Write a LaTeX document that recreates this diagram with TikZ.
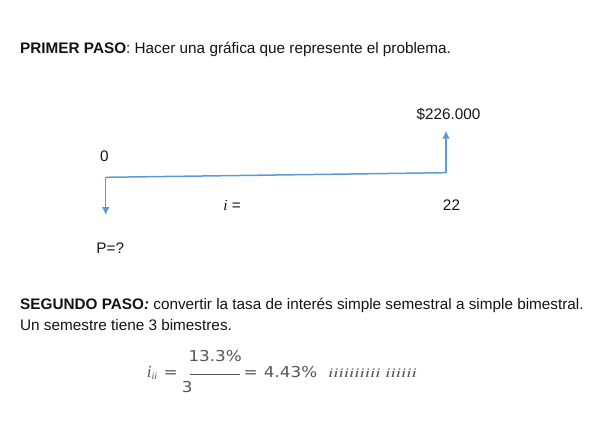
\documentclass[tikz,border=0pt]{standalone}
\usepackage{fontspec}
\setmainfont{Liberation Sans}
\newfontfamily\formulafont[FakeStretch=1.12]{DejaVu Sans}
\newfontfamily\serifit{Liberation Serif}
\usetikzlibrary{shapes,arrows.meta}
\definecolor{flowblue}{RGB}{91,155,213}
\definecolor{inkgray}{RGB}{20,20,20}
\definecolor{formgray}{RGB}{85,85,85}

\begin{document}
\begin{tikzpicture}[x=1pt,y=-1pt]
    % Define styles
    \tikzstyle{txt} = [inner sep=0pt, anchor=base west, text=inkgray, font=\fontsize{15.3}{18}\selectfont]
    \tikzstyle{lbl} = [txt, anchor=base]
    \tikzstyle{form} = [inner sep=0pt, anchor=base west, text=formgray, font=\formulafont\fontsize{15}{18}\selectfont]
    \tikzstyle{line} = [draw=flowblue, line width=1.5pt, -{Latex[length=8pt,width=8pt]}]

    \useasboundingbox (0,0) rectangle (604,432);

    % First step
    \node [txt] (paso1) at (20,53.5) {\textbf{PRIMER PASO}: Hacer una gráfica que represente el problema.};

    % Cash flow diagram
    \coordinate (inicio) at (105.7,177.3);
    \coordinate (fin) at (446,172.7);
    \coordinate (pbaja) at (105.7,215);
    \coordinate (fsube) at (446,130.7);
    \draw [flowblue, line width=1.5pt] (inicio) -- (fin);
    \path [line] (inicio) -- (pbaja);
    \path [line] (fin) -- (fsube);

    \node [lbl] (cero) at (104.5,161.7) {0};
    \node [lbl] (monto) at (448.5,119.3) {\$226.000};
    \node [lbl] (tasa) at (232,210.7) {{\serifit\itshape i} =};
    \node [lbl] (periodos) at (451.5,210.7) {22};
    \node [lbl] (valor) at (110.3,253.3) {P=?};

    % Second step
    \node [txt] (paso2) at (20,309.3) {\textbf{SEGUNDO PASO\textit{:}} convertir la tasa de interés simple semestral a simple bimestral.};
    \node [txt] (semestre) at (20,330) {Un semestre tiene 3 bimestres.};

    % Rate conversion
    \node [form, font=\serifit\itshape\fontsize{17}{18}\selectfont] (tasaii) at (146.7,377.3) {i\raisebox{-2.5pt}{\fontsize{10}{10}\selectfont ii}};
    \node [form] (igual) at (163.5,377.3) {=};
    \node [form] (num) at (188.3,361.7) {13.3\%};
    \draw [formgray, line width=1.2pt] (190,374.7) -- (240,374.7);
    \node [form] (den) at (181.7,392.7) {3};
    \node [form] (res) at (243.3,377.3) {= \hspace{1pt}4.43\%};
    \node [form, font=\serifit\itshape\fontsize{13}{14}\selectfont] (resto) at (328,377.3) {\scalebox{1.45}[1]{iiiiiiiiii iiiiii}};
\end{tikzpicture}
\end{document}
